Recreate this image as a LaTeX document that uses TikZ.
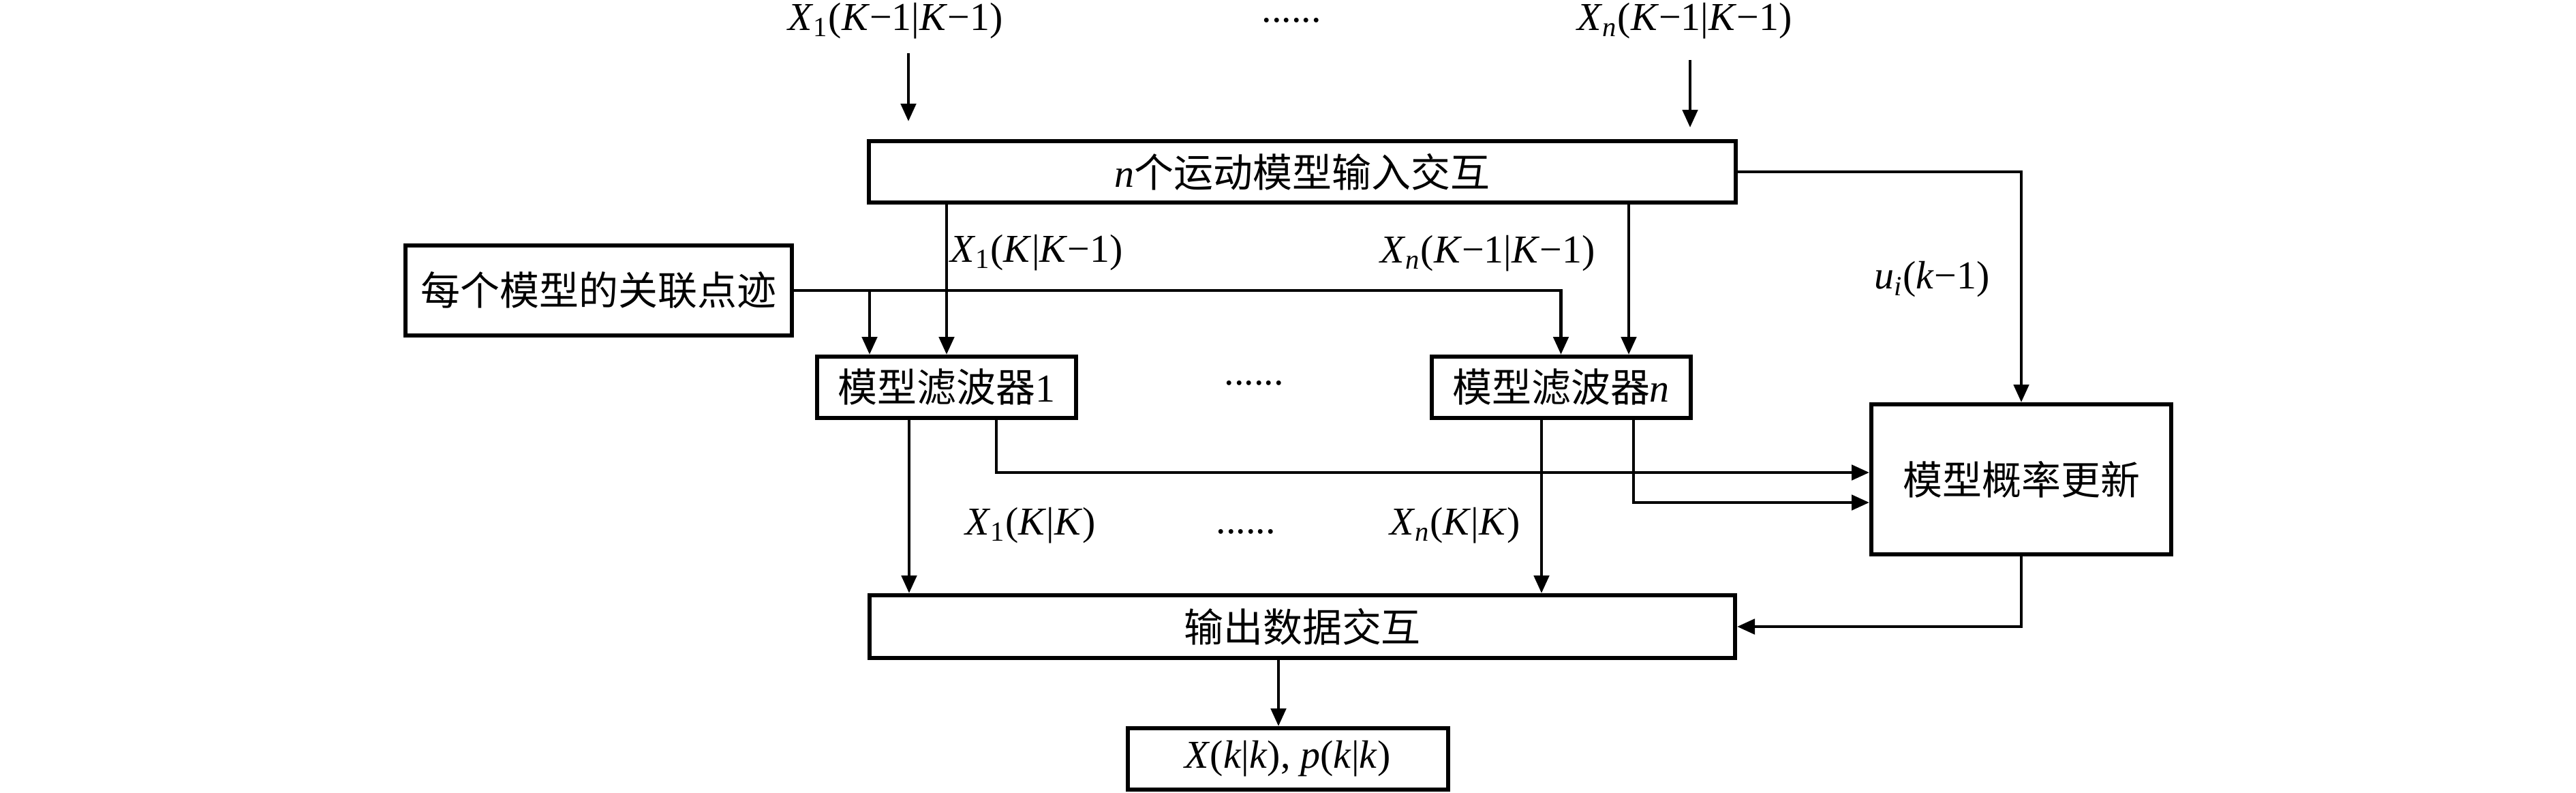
\documentclass[tikz,border=0pt]{standalone}
\usepackage{fontspec}
\setmainfont{Liberation Serif}
\newfontfamily\cjk{Noto Sans CJK SC}
\usetikzlibrary{arrows.meta}
\newcommand{\vi}[1]{\textit{#1}}
\begin{document}
\begin{tikzpicture}[x=1cm,y=1cm,
  every node/.style={font=\fontsize{16.5}{20}\selectfont},
  box/.style={draw, line width=1.7pt, inner sep=0pt, align=center},
  dotlabel/.style={inner sep=0pt},
  conn/.style={line width=1.4pt},
  arr/.style={conn, -{Triangle[length=0.26cm,width=0.22cm]}}]
\useasboundingbox (0,0) rectangle (37.8,-11.63);
% boxes
\node[box, minimum width=12.72cm, minimum height=0.9cm] (top) at (19.11,-2.52) {\vi{n}{\cjk 个运动模型输入交互}};
\node[box, minimum width=5.67cm, minimum height=1.32cm] (assoc) at (8.785,-4.26) {{\cjk 每个模型的关联点迹}};
\node[box, minimum width=3.8cm, minimum height=0.9cm] (f1) at (13.89,-5.68) {{\cjk 模型滤波器}1};
\node[box, minimum width=3.8cm, minimum height=0.9cm] (fn) at (22.905,-5.68) {{\cjk 模型滤波器}\vi{n}};
\node[box, minimum width=4.4cm, minimum height=2.2cm] (prob) at (29.66,-7.03) {{\cjk 模型概率更新}};
\node[box, minimum width=12.7cm, minimum height=0.92cm] (out) at (19.11,-9.19) {{\cjk 输出数据交互}};
\node[box, minimum width=4.7cm, minimum height=0.9cm] (fin) at (18.895,-11.13) {\vi{X}(\vi{k}|\vi{k}), \vi{p}(\vi{k}|\vi{k})};
% labels
\node (in1) at (13.14,-0.31) {\vi{X}\textsubscript{1}(\vi{K}−1|\vi{K}−1)};
\node (inn) at (24.72,-0.31) {\vi{X}\textsubscript{\vi{n}}(\vi{K}−1|\vi{K}−1)};
\node[dotlabel] (dots0) at (18.95,-0.30) {......};
\node (l1) at (15.21,-3.71) {\vi{X}\textsubscript{1}(\vi{K}|\vi{K}−1)};
\node (l2) at (21.83,-3.72) {\vi{X}\textsubscript{\vi{n}}(\vi{K}−1|\vi{K}−1)};
\node (lu) at (28.35,-4.10) {\vi{u}\textsubscript{\vi{i}}(\vi{k}−1)};
\node[dotlabel] (dots1) at (18.40,-5.62) {......};
\node (l3) at (15.12,-7.71) {\vi{X}\textsubscript{1}(\vi{K}|\vi{K})};
\node[dotlabel] (dots2) at (18.28,-7.80) {......};
\node (l4) at (21.35,-7.71) {\vi{X}\textsubscript{\vi{n}}(\vi{K}|\vi{K})};
% helper coordinates
\coordinate (s1) at (13.33,-0.78); \coordinate (e1) at (13.33,-1.78);
\coordinate (s2) at (24.80,-0.88); \coordinate (e2) at (24.80,-1.87);
\coordinate (tn) at (23.90,0);
\coordinate (b1) at (12.76,0);
\coordinate (p1) at (14.62,-6.93);
\coordinate (p2) at (23.97,-7.37);
\coordinate (o1) at (13.34,0);
\coordinate (o2) at (22.62,0);
\coordinate (o3) at (18.76,0);
% connectors
\draw[arr] (s1) -- (e1);
\draw[arr] (s2) -- (e2);
\draw[arr] (top.south -| f1.north) -- (f1.north);
\draw[arr] (top.south -| tn) -- (fn.north -| tn);
\draw[arr] (assoc.east) -| (fn.north);
\draw[arr] (assoc.east -| b1) -- (f1.north -| b1);
\draw[arr] (f1.south -| p1) |- (prob.west |- p1);
\draw[arr] (fn.south -| p2) |- (prob.west |- p2);
\draw[arr] (f1.south -| o1) -- (out.north -| o1);
\draw[arr] (fn.south -| o2) -- (out.north -| o2);
\draw[arr] (prob.south) |- (out.east);
\draw[arr] (top.east) -| (prob.north);
\draw[arr] (out.south -| o3) -- (fin.north -| o3);
\end{tikzpicture}
\end{document}
